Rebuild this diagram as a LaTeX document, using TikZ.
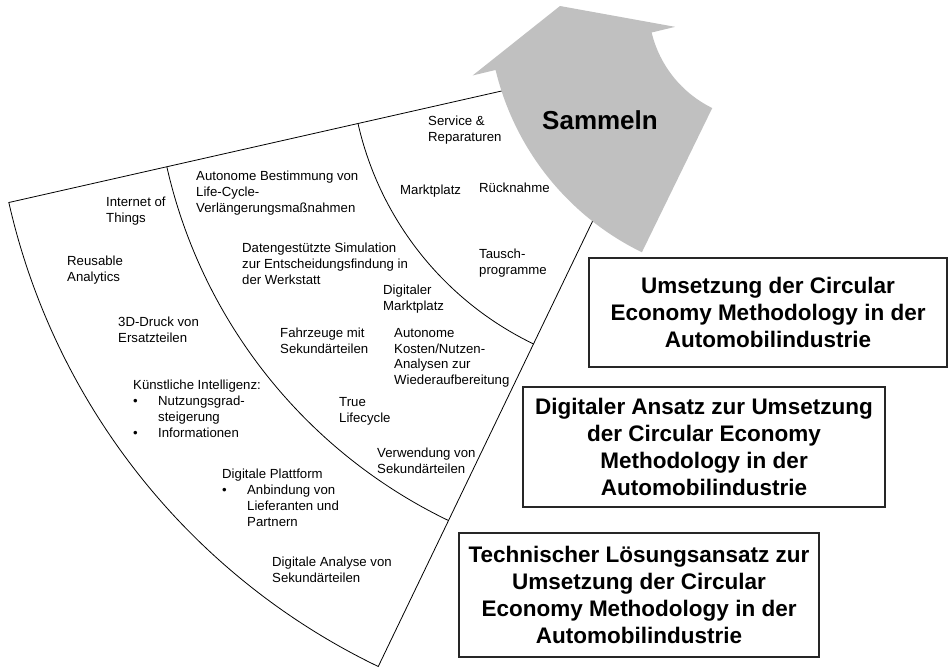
\documentclass[tikz,border=0pt]{standalone}
\usepackage{fontspec}
\setmainfont{Liberation Sans}
\usepackage{tikz}
\usetikzlibrary{calc}
\definecolor{arrowgray}{HTML}{C0C0C0}
\tikzset{
  item/.style={anchor=north west, align=left, inner sep=0pt, font=\fontsize{13.2}{15.8}\selectfont},
  panel/.style={draw=black!85, line width=1.4pt, align=center, inner sep=0pt, font=\fontsize{22.5}{27}\selectfont\bfseries},
  ring/.style={line width=0.8pt, black}
}
\newcommand{\bul}{\makebox[25pt][l]{\textbullet}}

\begin{document}
\begin{tikzpicture}[x=1pt,y=-1pt]
\useasboundingbox (0,0) rectangle (948,667);
\coordinate (F) at (674,52);
\coordinate (G) at (762,6);

% fan
\draw[ring] ([shift={(167.25:682)}]F) arc[start angle=167.25, end angle=115.7, radius=682]
  -- ([shift={(115.7:150)}]F) arc[start angle=115.7, end angle=167.25, radius=150] -- cycle;
\draw[ring] ([shift={(167.25:520)}]F) arc[start angle=167.25, end angle=115.7, radius=520];
\draw[ring] ([shift={(167.25:324)}]F) arc[start angle=167.25, end angle=115.7, radius=324];

% circular arrow
\fill[arrowgray] ([shift={(116:274)}]G) arc[start angle=116, end angle=166.5, radius=274]
  -- ([shift={(166.5:297.6)}]G) -- ([shift={(180:202)}]G) -- ([shift={(166.5:89.3)}]G)
  -- ([shift={(166.5:113.5)}]G) arc[start angle=166.5, end angle=116, radius=113.5] -- cycle;
\node[font=\fontsize{26}{30}\selectfont\bfseries] (sammeln) at (600,120) {Sammeln};

% outer ring
\node[item] (iot) at (106,197) {Internet of\\Things};
\node[item] (reuse) at (67,256) {Reusable\\Analytics};
\node[item] (druck) at (118,317) {3D-Druck von\\Ersatzteilen};
\node[item] (ki) at (133,380) {K\"unstliche Intelligenz:\\\bul Nutzungsgrad-\\\hspace*{25pt}steigerung\\\bul Informationen};
\node[item] (plattform) at (222,469) {Digitale Plattform\\\bul Anbindung von\\\hspace*{25pt}Lieferanten und\\\hspace*{25pt}Partnern};
\node[item] (analyse) at (272,557) {Digitale Analyse von\\Sekund\"arteilen};

% middle ring
\node[item] (bestimmung) at (196,171) {Autonome Bestimmung von\\Life-Cycle-\\Verl\"angerungsma\ss nahmen};
\node[item] (simulation) at (242,243) {Datengest\"utzte Simulation\\zur Entscheidungsfindung in\\der Werkstatt};
\node[item] (fahrzeuge) at (280,328) {Fahrzeuge mit\\Sekund\"arteilen};
\node[item] (lifecycle) at (339,397) {True\\Lifecycle};
\node[item] (verwendung) at (377,448) {Verwendung von\\Sekund\"arteilen};
\node[item] (digmarkt) at (383,285) {Digitaler\\Marktplatz};
\node[item] (kosten) at (394,328) {Autonome\\Kosten/Nutzen-\\Analysen zur\\Wiederaufbereitung};

% inner ring
\node[item] (service) at (428,116) {Service \&\\Reparaturen};
\node[item] (markt) at (400,185) {Marktplatz};
\node[item] (ruecknahme) at (479,183) {R\"ucknahme};
\node[item] (tausch) at (479,249) {Tausch-\\programme};

% boxes
\node[panel, minimum width=358, minimum height=109] (umsetzung) at (768,312.5)
  {Umsetzung der Circular\\Economy Methodology in der\\Automobilindustrie};
\node[panel, minimum width=362, minimum height=120] (digital) at (704,447)
  {Digitaler Ansatz zur Umsetzung\\der Circular Economy\\Methodology in der\\Automobilindustrie};
\node[panel, minimum width=360, minimum height=124] (technisch) at (639,595)
  {Technischer L\"osungsansatz zur\\Umsetzung der Circular\\Economy Methodology in der\\Automobilindustrie};
\end{tikzpicture}
\end{document}
